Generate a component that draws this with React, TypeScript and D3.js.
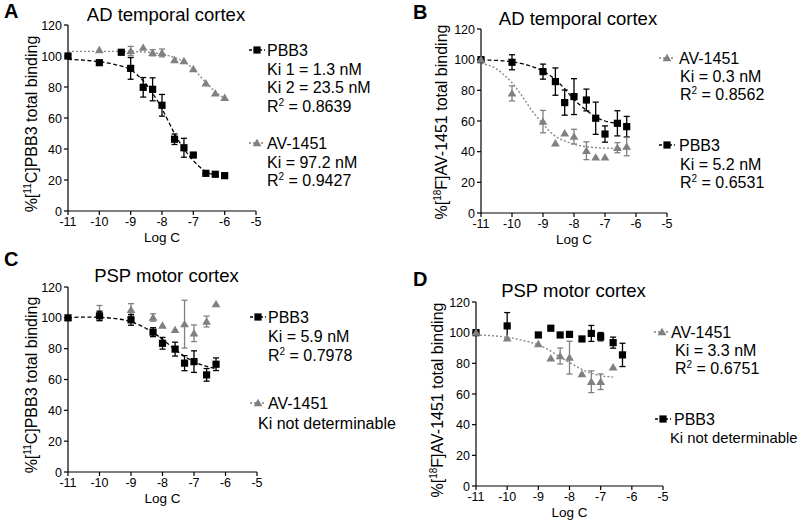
import React from 'react';
import * as d3 from 'd3';

type Pt = [number, number, number]; // [logC, mean %, error]
type FP = [number, number];

const xTicks = [-11, -10, -9, -8, -7, -6, -5];
const yTicks = [0, 20, 40, 60, 80, 100, 120];

// Panel A: AD temporal cortex, [11C]PBB3 binding
const A_PBB3: Pt[] = [[-11,100,0],[-10,95.7,0],[-9.3,102.4,0],[-9,92,7],[-8.6,79.8,6.3],[-8.3,78.5,7.4],[-8,68.2,7],[-7.6,46.3,3.4],[-7.3,40.8,6.1],[-7,36.1,0],[-6.6,24.3,0],[-6.3,23.7,0],[-6,22.8,0]];
const A_AV: Pt[] = [[-11,100,0],[-10,103.9,0],[-9,103.2,3],[-8.6,105.4,0],[-8.3,102.1,2],[-8,102,2.5],[-7.6,97.4,0],[-7.3,96.8,0],[-7,91.6,0],[-6.6,82.4,0],[-6.3,75.9,0],[-6,73.1,0]];
const A_PBB3_fit: FP[] = [[-11,97.8],[-10.5,97.3],[-10,96.3],[-9.5,94.5],[-9,91],[-8.6,84],[-8.3,76],[-8,66],[-7.8,58],[-7.6,50],[-7.3,40],[-7,32.5],[-6.8,28.5],[-6.6,25.5],[-6.3,23],[-6,22]];
const A_AV_fit: FP[] = [[-11,103],[-10,103],[-9,102.9],[-8.6,102.6],[-8.3,102.2],[-8,101.3],[-7.6,99],[-7.3,96.3],[-7,91.5],[-6.6,83],[-6.3,77],[-6,72.5]];

// Panel B: AD temporal cortex, [18F]AV-1451 binding
const B_PBB3: Pt[] = [[-11,100,0],[-10,98.3,4.9],[-9,92.2,4.9],[-8.6,85.7,8.9],[-8.3,72,8.2],[-8,75.9,11.7],[-7.6,73.7,7.1],[-7.3,61.8,10.5],[-7,51.5,5.3],[-6.6,58.5,8.2],[-6.3,56.3,6.7]];
const B_AV: Pt[] = [[-11,100,0],[-10,78,4.9],[-9,59.6,7.3],[-8.6,45.5,0],[-8.3,52,0],[-8,49.8,4.8],[-7.6,40.6,5.8],[-7.3,36.3,0],[-7,36.3,0],[-6.6,42.6,3.3],[-6.3,43.3,6]];
const B_PBB3_fit: FP[] = [[-11,99.8],[-10.5,99.5],[-10,98.6],[-9.5,96.5],[-9,92.5],[-8.6,87],[-8.3,81],[-8,74],[-7.6,67],[-7.3,62.5],[-7,60],[-6.6,58.5],[-6.2,58]];
const B_AV_fit: FP[] = [[-11,97.5],[-10.5,94],[-10.2,89],[-10,85],[-9.7,77],[-9.4,68],[-9,58],[-8.6,50],[-8.3,47],[-8,44.8],[-7.5,43],[-7,42.3],[-6.2,42]];

// Panel C: PSP motor cortex, [11C]PBB3 binding
const C_PBB3: Pt[] = [[-11,100,0],[-10,101.3,3],[-9,98.7,3.5],[-8.3,90.7,2.9],[-8,83.5,3.8],[-7.6,79.7,4.5],[-7.3,70.6,4.9],[-7,71.6,7],[-6.6,63,4.1],[-6.3,69.9,4.1]];
const C_AV: Pt[] = [[-11,100,0],[-10,103,5],[-9,105.2,4],[-8.3,100.2,2.4],[-8,95,0],[-7.6,92.2,0],[-7.3,95.9,15.5],[-7,90,5.4],[-6.6,97.6,3.5],[-6.3,108.9,0]];
const C_PBB3_fit: FP[] = [[-11,100],[-10.5,100.5],[-10,100.3],[-9.5,99.5],[-9,97.5],[-8.6,94],[-8.3,90.5],[-8,86],[-7.6,79.5],[-7.3,75],[-7,71.5],[-6.6,68.5],[-6.3,67]];

// Panel D: PSP motor cortex, [18F]AV-1451 binding
const D_PBB3: Pt[] = [[-11,100,0],[-10,104.4,8.7],[-9,98.5,0],[-8.6,102.9,0],[-8.3,98.5,0],[-8,98.9,0],[-7.6,95.9,0],[-7.3,99.5,5.2],[-7,97.4,2.7],[-6.6,93.5,3.6],[-6.3,85.5,7.6]];
const D_AV: Pt[] = [[-11,100,0],[-10,96.3,0],[-9,92.6,0],[-8.6,83.3,0],[-8.3,84.8,5.2],[-8,83.7,10.7],[-7.6,73,0],[-7.3,68,7.1],[-7,68,5.1],[-6.6,77.4,0]];
const D_AV_fit: FP[] = [[-11,98.5],[-10.5,98],[-10,97],[-9.5,95],[-9,92],[-8.6,88],[-8.3,84],[-8,80.5],[-7.6,76],[-7.3,73.5],[-7,72],[-6.6,71]];

const GREY = '#808080';
const FONT = 'Liberation Sans, Arial, Helvetica, sans-serif';

type LegLine = { t: React.ReactNode; x: number; y: number; fs?: number };
type LegItem = { kind: 'sq' | 'tri'; mx: number; my: number; lines: LegLine[] };

interface Cfg {
  letter: string; lx: number; ly: number;
  title: string; ty: number;
  yLabel: React.ReactNode; ylx: number; yly: number;
  x0: number; x1: number; y0: number; y1: number;
  pbb3: Pt[]; av: Pt[];
  pbb3Fit?: FP[]; avFit?: FP[];
  avOnTop: boolean;
  legend: LegItem[];
}

const Sq = ({ x, y }: { x: number; y: number }) => (
  <rect x={x - 3.6} y={y - 3.6} width={7.2} height={7.2} fill="#000" />
);
const Tri = ({ x, y }: { x: number; y: number }) => (
  <path d={`M${x},${y - 4.2}L${x + 4.4},${y + 3.2}L${x - 4.4},${y + 3.2}Z`} fill={GREY} />
);

const sup = (base: string, s: string, rest: string) => (
  <>
    {base}
    <tspan fontSize="10" dy="-6">{s}</tspan>
    <tspan dy="6">{rest}</tspan>
  </>
);

function Panel({ c }: { c: Cfg }) {
  const x = d3.scaleLinear().domain([-11, -5]).range([c.x0, c.x1]);
  const y = d3.scaleLinear().domain([0, 120]).range([c.y0, c.y1]);
  const line = d3.line<FP>().x(d => x(d[0])).y(d => y(d[1])).curve(d3.curveMonotoneX);

  const errs = (data: Pt[], color: string) =>
    data.filter(d => d[2] > 0).map((d, i) => {
      const cx = x(d[0]);
      const ya = y(d[1] + d[2]);
      const yb = y(d[1] - d[2]);
      return (
        <g key={i} stroke={color} strokeWidth={1.3}>
          <line x1={cx} x2={cx} y1={ya} y2={yb} />
          <line x1={cx - 3} x2={cx + 3} y1={ya} y2={ya} />
          <line x1={cx - 3} x2={cx + 3} y1={yb} y2={yb} />
        </g>
      );
    });

  const pbb3Marks = (
    <g>
      {errs(c.pbb3, '#000')}
      {c.pbb3.map((d, i) => <Sq key={i} x={x(d[0])} y={y(d[1])} />)}
    </g>
  );
  const avMarks = (
    <g>
      {errs(c.av, GREY)}
      {c.av.map((d, i) => <Tri key={i} x={x(d[0])} y={y(d[1])} />)}
    </g>
  );

  return (
    <g fontFamily={FONT}>
      <text x={c.lx} y={c.ly} fontSize={20} fontWeight="bold">{c.letter}</text>
      <text x={(c.x0 + c.x1) / 2 + 4} y={c.ty} fontSize={18.5} textAnchor="middle">{c.title}</text>
      <text transform={`translate(${c.ylx},${c.yly}) rotate(-90)`} fontSize={16} textAnchor="middle">{c.yLabel}</text>
      {/* axes */}
      <g stroke="#000" strokeWidth={1.2}>
        <line x1={c.x0} x2={c.x1} y1={c.y0} y2={c.y0} />
        <line x1={c.x0} x2={c.x0} y1={c.y0} y2={c.y1} />
        {xTicks.map(t => <line key={t} x1={x(t)} x2={x(t)} y1={c.y0} y2={c.y0 + 4} />)}
        {yTicks.map(t => <line key={t} x1={c.x0 - 4} x2={c.x0} y1={y(t)} y2={y(t)} />)}
      </g>
      {xTicks.map(t => (
        <text key={t} x={x(t)} y={c.y0 + 15} fontSize={12.5} textAnchor="middle">{t}</text>
      ))}
      {yTicks.map(t => (
        <text key={t} x={c.x0 - 6} y={y(t) + 4.5} fontSize={12.5} textAnchor="end">{t}</text>
      ))}
      <text x={(c.x0 + c.x1) / 2} y={c.y0 + 31} fontSize={13.5} textAnchor="middle">Log C</text>
      {/* fits */}
      {c.avFit && <path d={line(c.avFit) || ''} fill="none" stroke="#8a8a8a" strokeWidth={1.4} strokeDasharray="2,2" />}
      {c.pbb3Fit && <path d={line(c.pbb3Fit) || ''} fill="none" stroke="#000" strokeWidth={1.3} strokeDasharray="4,2.5" />}
      {c.avOnTop ? <>{pbb3Marks}{avMarks}</> : <>{avMarks}{pbb3Marks}</>}
      {/* legend */}
      {c.legend.map((L, i) => (
        <g key={i}>
          <line x1={L.mx - 8} x2={L.mx + 8} y1={L.my} y2={L.my}
            stroke={L.kind === 'sq' ? '#000' : GREY} strokeWidth={1.3}
            strokeDasharray={L.kind === 'sq' ? '3,2' : '2,2'} />
          {L.kind === 'sq' ? <Sq x={L.mx} y={L.my} /> : <Tri x={L.mx} y={L.my} />}
          {L.lines.map((ln, j) => (
            <text key={j} x={ln.x} y={ln.y} fontSize={ln.fs ?? 16}>{ln.t}</text>
          ))}
        </g>
      ))}
    </g>
  );
}

const panels: Cfg[] = [
  {
    letter: 'A', lx: 4, ly: 18, title: 'AD temporal cortex', ty: 21,
    yLabel: sup('%[', '11', 'C]PBB3 total binding'), ylx: 37, yly: 124,
    x0: 68, x1: 256, y0: 211, y1: 25,
    pbb3: A_PBB3, av: A_AV, pbb3Fit: A_PBB3_fit, avFit: A_AV_fit, avOnTop: false,
    legend: [
      { kind: 'sq', mx: 257, my: 50, lines: [
        { t: 'PBB3', x: 267, y: 56 },
        { t: 'Ki 1 = 1.3 nM', x: 267, y: 74.5 },
        { t: 'Ki 2 = 23.5 nM', x: 267, y: 93 },
        { t: sup('R', '2', ' = 0.8639'), x: 267, y: 111.5 },
      ] },
      { kind: 'tri', mx: 257, my: 143, lines: [
        { t: 'AV-1451', x: 267, y: 149 },
        { t: 'Ki = 97.2 nM', x: 267, y: 167.5 },
        { t: sup('R', '2', ' = 0.9427'), x: 267, y: 186 },
      ] },
    ],
  },
  {
    letter: 'B', lx: 413, ly: 19, title: 'AD temporal cortex', ty: 25,
    yLabel: sup('%[', '18', 'F]AV-1451 total binding'), ylx: 447, yly: 122,
    x0: 481, x1: 667, y0: 213, y1: 29,
    pbb3: B_PBB3, av: B_AV, pbb3Fit: B_PBB3_fit, avFit: B_AV_fit, avOnTop: true,
    legend: [
      { kind: 'tri', mx: 667, my: 58, lines: [
        { t: 'AV-1451', x: 679, y: 64 },
        { t: 'Ki = 0.3 nM', x: 680, y: 82 },
        { t: sup('R', '2', ' = 0.8562'), x: 680, y: 100 },
      ] },
      { kind: 'sq', mx: 667, my: 145, lines: [
        { t: 'PBB3', x: 679, y: 151 },
        { t: 'Ki = 5.2 nM', x: 680, y: 169.5 },
        { t: sup('R', '2', ' = 0.6531'), x: 680, y: 188 },
      ] },
    ],
  },
  {
    letter: 'C', lx: 4, ly: 266, title: 'PSP motor cortex', ty: 282,
    yLabel: sup('%[', '11', 'C]PBB3 total binding'), ylx: 37, yly: 385,
    x0: 68, x1: 257, y0: 472, y1: 287,
    pbb3: C_PBB3, av: C_AV, pbb3Fit: C_PBB3_fit, avOnTop: false,
    legend: [
      { kind: 'sq', mx: 258, my: 317, lines: [
        { t: 'PBB3', x: 268, y: 323 },
        { t: 'Ki = 5.9 nM', x: 268, y: 342 },
        { t: sup('R', '2', ' = 0.7978'), x: 268, y: 361 },
      ] },
      { kind: 'tri', mx: 258, my: 403, lines: [
        { t: 'AV-1451', x: 268, y: 409 },
        { t: 'Ki not determinable', x: 258, y: 429 },
      ] },
    ],
  },
  {
    letter: 'D', lx: 413, ly: 286, title: 'PSP motor cortex', ty: 297,
    yLabel: sup('%[', '18', 'F]AV-1451 total binding'), ylx: 443, yly: 400,
    x0: 476, x1: 663, y0: 486, y1: 302,
    pbb3: D_PBB3, av: D_AV, avFit: D_AV_fit, avOnTop: true,
    legend: [
      { kind: 'tri', mx: 662, my: 332, lines: [
        { t: 'AV-1451', x: 671, y: 338 },
        { t: 'Ki = 3.3 nM', x: 675, y: 356 },
        { t: sup('R', '2', ' = 0.6751'), x: 675, y: 374 },
      ] },
      { kind: 'sq', mx: 663, my: 419, lines: [
        { t: 'PBB3', x: 674, y: 425 },
        { t: 'Ki not determinable', x: 670, y: 443, fs: 14.8 },
      ] },
    ],
  },
];

export default function App() {
  return (
    <svg width={800} height={520} style={{ position: 'absolute', left: 0, top: 0, background: '#fff' }}>
      <rect width={800} height={520} fill="#fff" />
      {panels.map((c, i) => <Panel key={i} c={c} />)}
    </svg>
  );
}
